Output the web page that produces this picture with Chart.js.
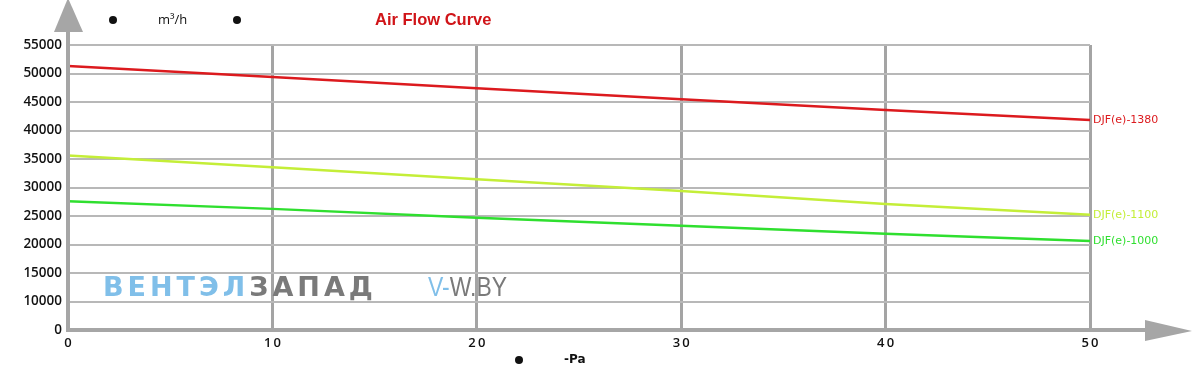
<!DOCTYPE html>
<html>
<head>
<meta charset="utf-8">
<script src="https://cdn.jsdelivr.net/npm/chart.js@4/dist/chart.umd.min.js"></script>
<style>
html,body{margin:0;padding:0;background:#fff;}
#wrap{width:1192px;height:368px;position:relative;}
</style>
</head>
<body>
<div id="wrap"><canvas id="airChart" width="1192" height="368"></canvas></div>
<script>
// pressure, Pa
var pressure=[0,10,20,30,40,50];
// air flow, m3/h
var flow1380=[51300,49400,47400,45500,43600,41850];
var flow1100=[35600,33550,31450,29400,27100,25200];
var flow1000=[27600,26250,24700,23300,21900,20600];
var seriesNames=['DJF(e)-1380','DJF(e)-1100','DJF(e)-1000'];
var seriesColors=['#dc1a1e','#c4ee38','#2fdf2f'];
var yTicks=[0,10000,15000,20000,25000,30000,35000,40000,45000,50000,55000];
var xTicks=[0,10,20,30,40,50];

function toPoints(vals){
    var pts=[];
    for(var i=0;i<pressure.length;i++){
        pts.push({x:pressure[i],y:vals[i]});
    }
    return pts;
}

var allFlows=[flow1380,flow1100,flow1000];
var datasets=[];
for(var i=0;i<allFlows.length;i++){
    datasets.push({
        label:seriesNames[i],
        data:toPoints(allFlows[i]),
        borderColor:seriesColors[i],
        borderWidth:2.5,
        pointRadius:0,
        tension:0
    });
}

// background watermark
var watermark={
    id:'watermark',
    beforeDatasetsDraw:function(chart){
        var ctx=chart.ctx;
        ctx.save();
        ctx.textBaseline='alphabetic';
        ctx.font='bold 27px "DejaVu Sans"';
        ctx.letterSpacing='4px';
        ctx.fillStyle='#80bfe9';
        ctx.fillText('ВЕНТЭЛ',103,296);
        var w=ctx.measureText('ВЕНТЭЛ').width;
        ctx.fillStyle='#7a7a7a';
        ctx.fillText('ЗАПАД',103+w,296);
        ctx.letterSpacing='0px';
        ctx.translate(428,296);
        ctx.scale(0.85,1);
        ctx.font='27px "Liberation Sans"';
        ctx.fillStyle='#80bfe9';
        ctx.fillText('V-',0,0);
        var w2=ctx.measureText('V-').width;
        ctx.fillStyle='#7a7a7a';
        ctx.fillText('W.BY',w2,0);
        ctx.restore();
    }
};

// axes with arrows, titles, end labels
var decor={
    id:'decor',
    afterDraw:function(chart){
        var ctx=chart.ctx;
        var a=chart.chartArea;
        var xs=chart.scales.x, ys=chart.scales.y;
        ctx.save();
        ctx.strokeStyle='#a6a6a6';
        ctx.fillStyle='#a6a6a6';
        ctx.lineWidth=4;
        ctx.beginPath();
        ctx.moveTo(a.left,a.bottom);
        ctx.lineTo(a.left,30);
        ctx.moveTo(a.left-2,a.bottom);
        ctx.lineTo(1148,a.bottom);
        ctx.stroke();
        ctx.beginPath();
        ctx.moveTo(a.left,-2);
        ctx.lineTo(a.left-14,32);
        ctx.lineTo(a.left+15,32);
        ctx.closePath();
        ctx.fill();
        ctx.beginPath();
        ctx.moveTo(1192,a.bottom+1);
        ctx.lineTo(1145,a.bottom-10);
        ctx.lineTo(1145,a.bottom+11);
        ctx.closePath();
        ctx.fill();

        // end labels
        ctx.font='11px "DejaVu Sans"';
        ctx.textBaseline='middle';
        ctx.textAlign='left';
        for(var i=0;i<allFlows.length;i++){
            var last=allFlows[i][allFlows[i].length-1];
            ctx.fillStyle=seriesColors[i];
            ctx.fillText(seriesNames[i],xs.getPixelForValue(pressure[pressure.length-1])+3,ys.getPixelForValue(last));
        }

        // titles
        ctx.fillStyle='#111';
        ctx.beginPath();ctx.arc(113,20,4,0,Math.PI*2);ctx.fill();
        ctx.beginPath();ctx.arc(237,20,4,0,Math.PI*2);ctx.fill();
        ctx.beginPath();ctx.arc(519,360,4,0,Math.PI*2);ctx.fill();
        ctx.font='13px "Open Sans"';
        ctx.fillText('m³/h',158,20);
        ctx.font='bold 12px "DejaVu Sans"';
        ctx.fillText('-Pa',564,360);
        ctx.font='bold 16.5px "Liberation Sans"';
        ctx.fillStyle='#d01418';
        ctx.fillText('Air Flow Curve',375,20);
        ctx.restore();
    }
};

var ctx=document.getElementById('airChart').getContext('2d');
var airChart=new Chart(ctx,{
    type:'line',
    data:{datasets:datasets},
    options:{
        responsive:false,
        animation:false,
        layout:{padding:{top:45,right:102,left:0,bottom:0}},
        plugins:{legend:{display:false},tooltip:{enabled:false}},
        scales:{
            x:{
                type:'linear',
                min:0,max:50,
                afterFit:function(s){s.height=38;},
                afterBuildTicks:function(s){s.ticks=xTicks.map(function(v){return {value:v};});},
                grid:{color:'#a4a4a4',lineWidth:3,drawTicks:false},
                border:{display:false},
                ticks:{
                    padding:5,
                    color:'#111',
                    font:{family:'Open Sans',size:13,weight:'600'},
                    callback:function(v){return String(v).split('').join('\u2009');}
                }
            },
            y:{
                type:'linear',
                min:5000,max:55000,
                afterFit:function(s){s.width=68;},
                afterBuildTicks:function(s){
                    s.ticks=yTicks.map(function(v){return {value:v===0?5000:v};});
                },
                grid:{color:'#b8b8b8',lineWidth:2,drawTicks:false},
                border:{display:false},
                ticks:{
                    padding:6,
                    color:'#111',
                    font:{family:'Open Sans',size:13.5,weight:'600'},
                    callback:function(v){return v===5000?'0':String(v);}
                }
            }
        }
    },
    plugins:[watermark,decor]
});
</script>
</body>
</html>
